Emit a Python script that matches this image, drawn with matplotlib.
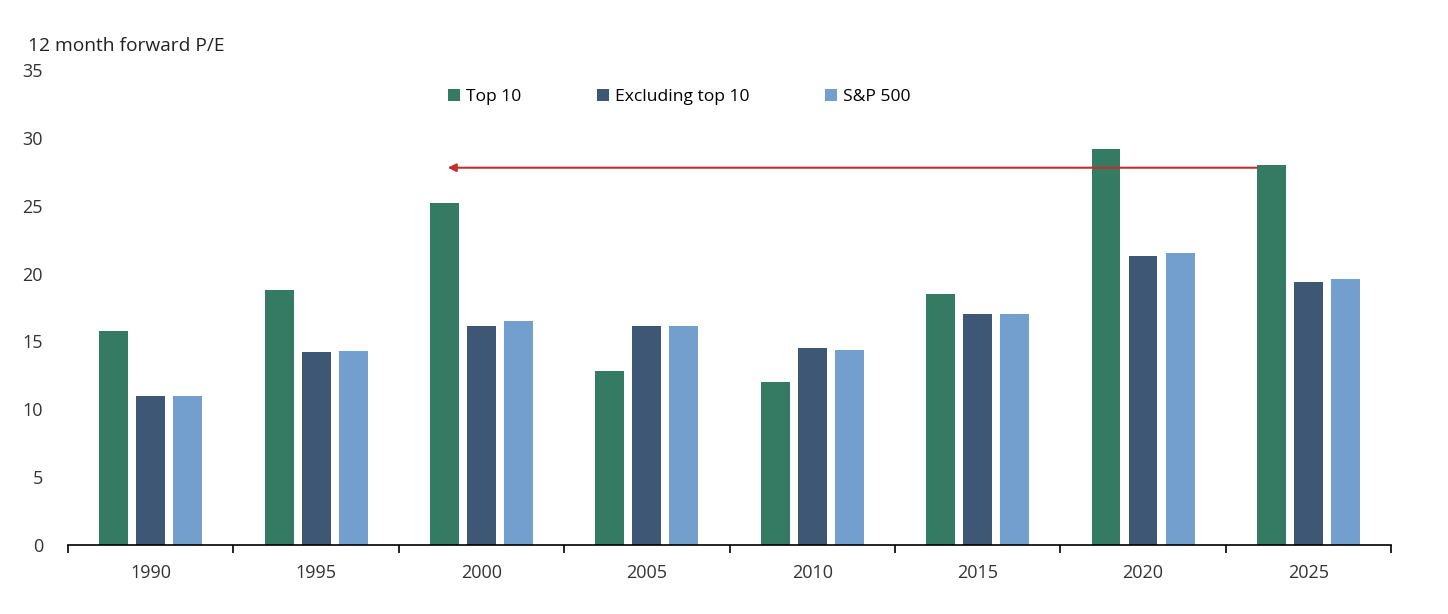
import matplotlib.pyplot as plt
import numpy as np

plt.rcParams['font.family'] = ['Open Sans', 'DejaVu Sans']

years = ['1990', '1995', '2000', '2005', '2010', '2015', '2020', '2025']
top10 = [15.8, 18.8, 25.2, 12.8, 12.0, 18.5, 29.2, 28.0]
excl_top10 = [11.0, 14.2, 16.1, 16.1, 14.5, 17.0, 21.3, 19.4]
sp500 = [11.0, 14.3, 16.5, 16.1, 14.4, 17.0, 21.5, 19.6]
labels = ['Top 10', 'Excluding top 10', 'S&P 500']
colors = ['#357a62', '#3e5775', '#739fcf']

fig = plt.figure(figsize=(14.48, 6.14), dpi=100)
ax = fig.add_axes([0.047, 0.1124, 0.9137, 0.7736])

x = np.arange(len(years))
w = 0.175
step = 0.224
for k, vals in enumerate([top10, excl_top10, sp500]):
    ax.bar(x + (k - 1) * step, vals, width=w, color=colors[k], label=labels[k])

# arrow from the 2025 top-10 level back to 2000
ax.annotate('', xy=(2 - step + 0.02, 27.8), xytext=(7 - step - w / 2, 27.8),
            arrowprops=dict(arrowstyle='-|>', color='#c0302c', lw=1.5,
                            mutation_scale=12, shrinkA=0, shrinkB=0))

ax.set_xlim(-0.5, len(years) - 0.5)
ax.set_ylim(0, 35)
ax.set_yticks(range(0, 36, 5))
ax.set_xticks(x)
ax.set_xticklabels(years)
ax.set_xticks(np.arange(-0.5, len(years), 1), minor=True)
ax.tick_params(axis='x', which='major', length=0, pad=14, labelsize=13, colors='#333333')
ax.tick_params(axis='x', which='minor', length=6, width=1.2, direction='out')
ax.tick_params(axis='y', length=0, pad=18, labelsize=13, colors='#333333')
for s in ['top', 'right', 'left']:
    ax.spines[s].set_visible(False)
ax.spines['bottom'].set_linewidth(1.2)

fig.text(0.019, 0.925, '12 month forward P/E', fontsize=13.8, color='#222222', va='center')

ax.legend(loc='upper center', bbox_to_anchor=(0.462, 0.994), ncol=3, frameon=False,
          fontsize=12.6, handlelength=0.7, handleheight=0.7, handletextpad=0.35,
          columnspacing=4.3)

fig.savefig('out.png', dpi=100)
